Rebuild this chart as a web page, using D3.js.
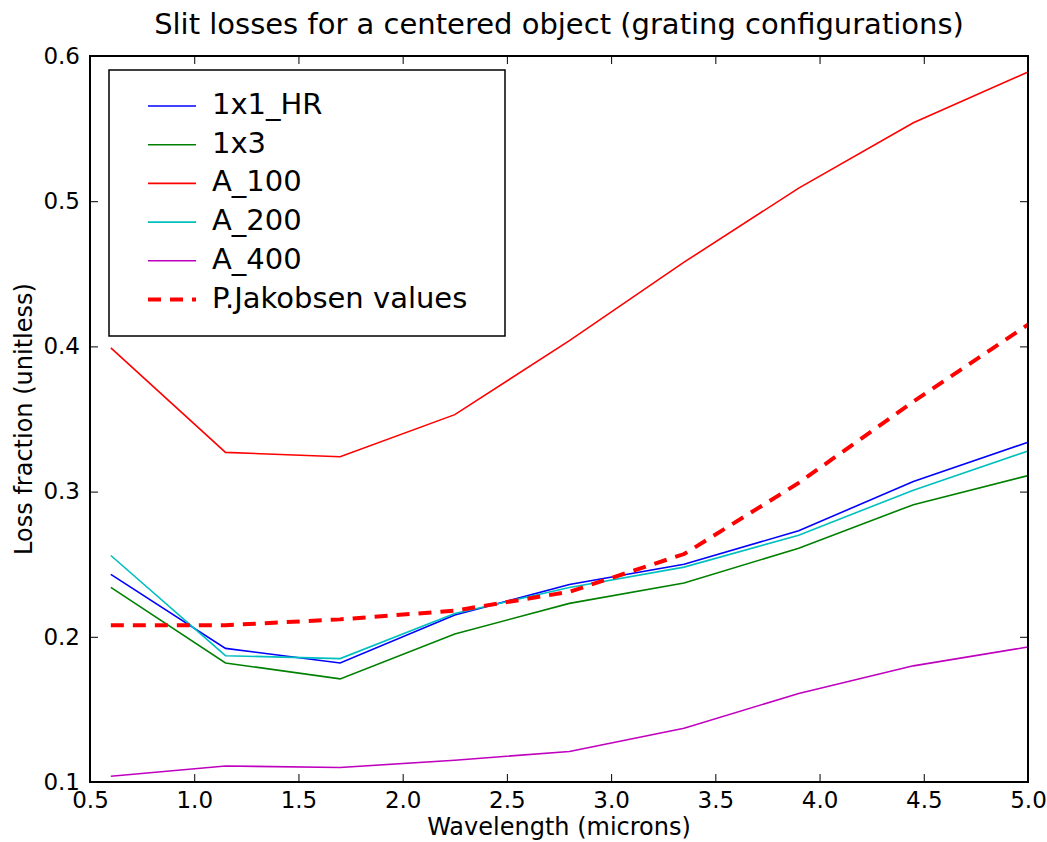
<!DOCTYPE html>
<html>
<head>
<meta charset="utf-8">
<script src="https://cdn.jsdelivr.net/npm/d3@7"></script>
<style>
  body { margin: 0; background: #fff; }
  svg text { font-family: "DejaVu Sans", sans-serif; fill: #000; }
</style>
</head>
<body>
<div id="chart"></div>
<script>
// wavelengths (microns)
const wavelengths = [0.6, 1.15, 1.7, 2.25, 2.8, 3.35, 3.9, 4.45, 5.0];

// loss fractions per configuration
const loss_1x1_HR = [0.243, 0.192, 0.182, 0.215, 0.236, 0.250, 0.273, 0.307, 0.334];
const loss_1x3    = [0.234, 0.182, 0.171, 0.202, 0.223, 0.237, 0.261, 0.291, 0.311];
const loss_A_100  = [0.399, 0.327, 0.324, 0.353, 0.404, 0.458, 0.509, 0.554, 0.589];
const loss_A_200  = [0.256, 0.187, 0.185, 0.216, 0.234, 0.248, 0.270, 0.301, 0.328];
const loss_A_400  = [0.104, 0.111, 0.110, 0.115, 0.121, 0.137, 0.161, 0.180, 0.193];
const loss_jakobsen = [0.208, 0.208, 0.212, 0.218, 0.231, 0.257, 0.306, 0.362, 0.415];

const xTicks = [0.5, 1.0, 1.5, 2.0, 2.5, 3.0, 3.5, 4.0, 4.5, 5.0];
const yTicks = [0.1, 0.2, 0.3, 0.4, 0.5, 0.6];

const series = [
    {name: "1x1_HR", values: loss_1x1_HR, color: "#0000ff", width: 1.6},
    {name: "1x3", values: loss_1x3, color: "#008000", width: 1.6},
    {name: "A_100", values: loss_A_100, color: "#ff0000", width: 1.6},
    {name: "A_200", values: loss_A_200, color: "#00bfbf", width: 1.6},
    {name: "A_400", values: loss_A_400, color: "#bf00bf", width: 1.6},
    {name: "P.Jakobsen values", values: loss_jakobsen, color: "#ff0000", width: 4, dash: "13,9"}
];

const width = 1047;
const height = 842;
const margin = {top: 56, right: 19, bottom: 60, left: 90};
const innerW = width - margin.left - margin.right;
const innerH = height - margin.top - margin.bottom;

const svg = d3.select("#chart").append("svg")
    .attr("width", width)
    .attr("height", height);

// Title
svg.append("text")
    .attr("x", margin.left + innerW / 2)
    .attr("y", 34)
    .attr("text-anchor", "middle")
    .style("font-size", "29px")
    .text("Slit losses for a centered object (grating configurations)");

const g = svg.append("g")
    .attr("transform", `translate(${margin.left},${margin.top})`);

const x = d3.scaleLinear().domain([0.5, 5.0]).range([0, innerW]);
const y = d3.scaleLinear().domain([0.1, 0.6]).range([innerH, 0]);

// Lines
const line = d3.line()
    .x((d, i) => x(wavelengths[i]))
    .y(d => y(d));

series.forEach(s => {
    g.append("path")
        .datum(s.values)
        .attr("fill", "none")
        .attr("stroke", s.color)
        .attr("stroke-width", s.width)
        .attr("stroke-dasharray", s.dash || null)
        .attr("d", line);
});

// Axes (ticks inside, on all four sides)
const tickLen = 8;
const fmt = d3.format(".1f");

g.append("g")
    .attr("transform", `translate(0,${innerH})`)
    .call(d3.axisBottom(x).tickValues(xTicks).tickSizeInner(-tickLen).tickSizeOuter(0).tickPadding(10).tickFormat(fmt))
    .call(a => a.select(".domain").remove())
    .selectAll("text").style("font-size", "23px");

g.append("g")
    .call(d3.axisTop(x).tickValues(xTicks).tickSizeInner(-tickLen).tickSizeOuter(0).tickFormat(""))
    .call(a => a.select(".domain").remove());

g.append("g")
    .call(d3.axisLeft(y).tickValues(yTicks).tickSizeInner(-tickLen).tickSizeOuter(0).tickPadding(10).tickFormat(fmt))
    .call(a => a.select(".domain").remove())
    .selectAll("text").style("font-size", "23px");

g.append("g")
    .attr("transform", `translate(${innerW},0)`)
    .call(d3.axisRight(y).tickValues(yTicks).tickSizeInner(-tickLen).tickSizeOuter(0).tickFormat(""))
    .call(a => a.select(".domain").remove());

g.selectAll(".tick line").attr("stroke", "#000").attr("stroke-width", 1);

// Frame
g.append("rect")
    .attr("width", innerW)
    .attr("height", innerH)
    .attr("fill", "none")
    .attr("stroke", "#000")
    .attr("stroke-width", 2);

// Axis labels
svg.append("text")
    .attr("x", margin.left + innerW / 2)
    .attr("y", 835)
    .attr("text-anchor", "middle")
    .style("font-size", "24px")
    .text("Wavelength (microns)");

svg.append("text")
    .attr("transform", `translate(32,${margin.top + innerH / 2}) rotate(-90)`)
    .attr("text-anchor", "middle")
    .style("font-size", "24px")
    .text("Loss fraction (unitless)");

// Legend
const legend = svg.append("g").attr("transform", "translate(109,70)");
legend.append("rect")
    .attr("width", 396)
    .attr("height", 266)
    .attr("fill", "#fff")
    .attr("stroke", "#000")
    .attr("stroke-width", 1.5);

series.forEach((s, i) => {
    const row = legend.append("g").attr("transform", `translate(0,${36 + i * 38.7})`);
    row.append("line")
        .attr("x1", 39).attr("x2", 87)
        .attr("y1", 0).attr("y2", 0)
        .attr("stroke", s.color)
        .attr("stroke-width", s.width)
        .attr("stroke-dasharray", s.dash || null);
    row.append("text")
        .attr("x", 103)
        .attr("y", 8)
        .style("font-size", "29px")
        .text(s.name);
});
</script>
</body>
</html>
